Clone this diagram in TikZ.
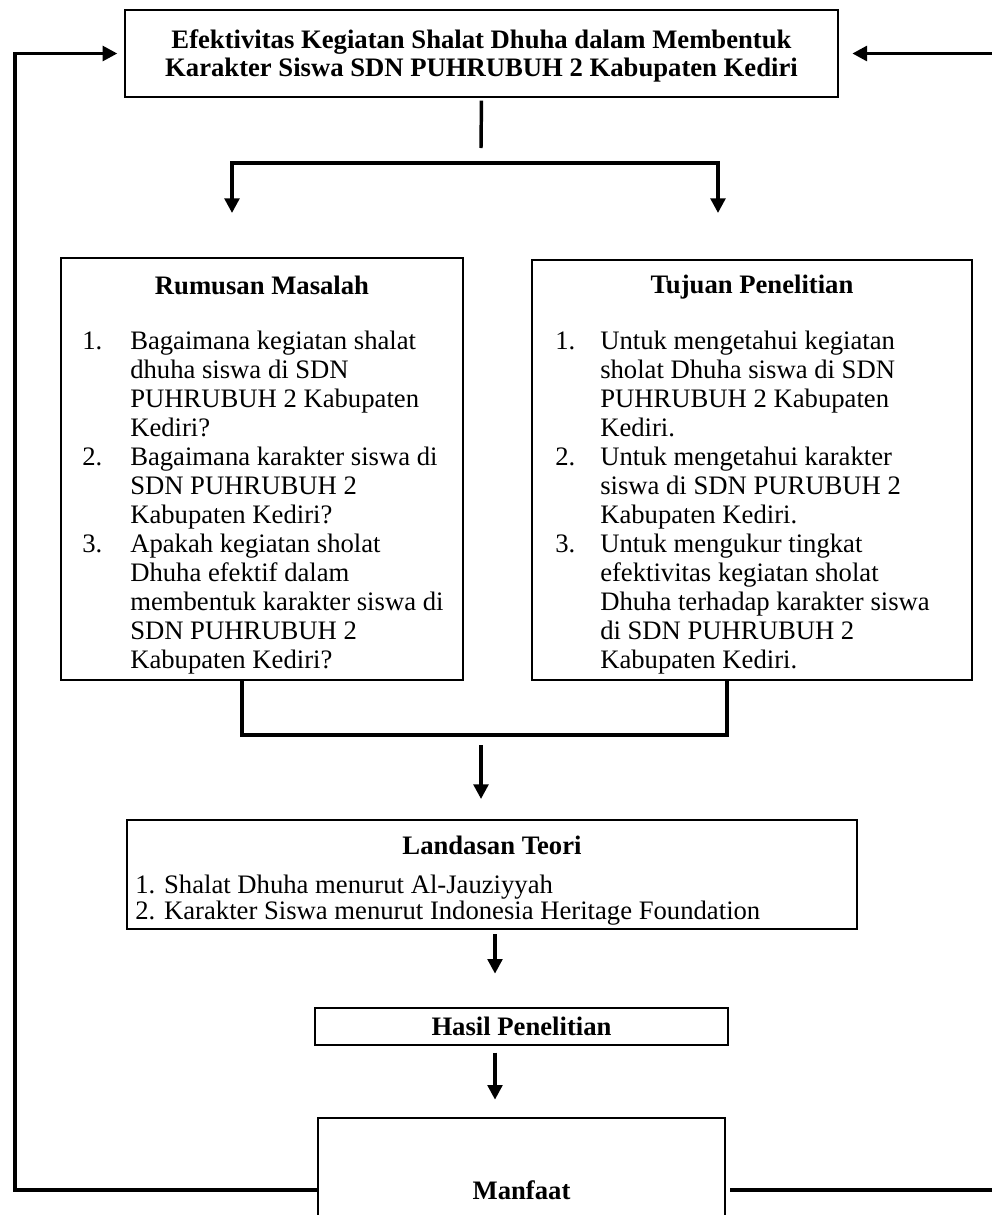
\documentclass[tikz,border=0pt]{standalone}
\usepackage{fontspec}
\setmainfont{Liberation Serif}
\usetikzlibrary{arrows.meta,fit}

\tikzset{
  kotak/.style={draw, line width=1.5pt, inner sep=0pt},
  garis/.style={line width=2.6pt},
  panah/.style={garis, -{Triangle[length=11pt,width=11pt]}},
  panahdua/.style={garis, {Triangle[length=11pt,width=11pt]}-{Triangle[length=11pt,width=11pt]}},
  judulkotak/.style={font=\fontsize{20pt}{21pt}\selectfont\bfseries, inner sep=0pt},
  daftar/.style={anchor=north west, inner sep=0pt, align=left},
}

\begin{document}
\begin{tikzpicture}[x=0.75pt,y=0.75pt,yscale=-1,xscale=1,font=\fontsize{20pt}{21.75pt}\selectfont]
\useasboundingbox (0,0) rectangle (992,1215);
\clip (0,0) rectangle (992,1215);

%Kotak judul
\node[kotak, fit={(125,10) (838,97)}] (judul) {};
\node[judulkotak, align=center] (tjudul) at (481.5,56) {Efektivitas Kegiatan Shalat Dhuha dalam Membentuk\\Karakter Siswa SDN PUHRUBUH 2 Kabupaten Kediri};

%Kotak rumusan masalah
\node[kotak, fit={(61,258) (463,680)}] (rumusan) {};
\node[judulkotak] (jrumusan) at (262,285) {Rumusan Masalah};
\node[daftar] (drumusan) at (82,329) {\begin{tabular}{@{}p{36pt}@{}l@{}}
1. & Bagaimana kegiatan shalat\\
   & dhuha siswa di SDN\\
   & PUHRUBUH 2 Kabupaten\\
   & Kediri?\\
2. & Bagaimana karakter siswa di\\
   & SDN PUHRUBUH 2\\
   & Kabupaten Kediri?\\
3. & Apakah kegiatan sholat\\
   & Dhuha efektif dalam\\
   & membentuk karakter siswa di\\
   & SDN PUHRUBUH 2\\
   & Kabupaten Kediri?
\end{tabular}};

%Kotak tujuan penelitian
\node[kotak, fit={(532,260) (972,680)}] (tujuan) {};
\node[judulkotak] (jtujuan) at (752,287) {Tujuan Penelitian};
\node[daftar] (dtujuan) at (555,329) {\begin{tabular}{@{}p{33.75pt}@{}l@{}}
1. & Untuk mengetahui kegiatan\\
   & sholat Dhuha siswa di SDN\\
   & PUHRUBUH 2 Kabupaten\\
   & Kediri.\\
2. & Untuk mengetahui karakter\\
   & siswa di SDN PURUBUH 2\\
   & Kabupaten Kediri.\\
3. & Untuk mengukur tingkat\\
   & efektivitas kegiatan sholat\\
   & Dhuha terhadap karakter siswa\\
   & di SDN PUHRUBUH 2\\
   & Kabupaten Kediri.
\end{tabular}};

%Kotak landasan teori
\node[kotak, fit={(127,820) (857,929)}] (landasan) {};
\node[judulkotak] (jlandasan) at (492,845) {Landasan Teori};
\node[daftar, font=\fontsize{20pt}{18pt}\selectfont] (dlandasan) at (135,875) {1. Shalat Dhuha menurut Al-Jauziyyah\\2. Karakter Siswa menurut Indonesia Heritage Foundation};

%Kotak hasil dan manfaat
\node[kotak, fit={(315,1008) (728,1045)}] (hasil) {};
\node[judulkotak] (thasil) at (hasil.center) {Hasil Penelitian};
\node[kotak, fit={(318,1118) (725,1262)}] (manfaat) {};
\node[judulkotak] (tmanfaat) at (manfaat.center) {Manfaat};

%Titik bantu
\coordinate (batas) at (481,148);
\coordinate (cabangkiri) at (232,163);
\coordinate (cabangkanan) at (718,163);
\coordinate (ujungkiri) at (232,213);
\coordinate (ujungkanan) at (718,213);
\coordinate (gabungkiri) at (242,735);
\coordinate (gabungkanan) at (727,735);
\coordinate (turun) at (481,745);
\coordinate (poros) at (495,0);
\coordinate (sudutkiri) at (15,1190);
\coordinate (sudutkanan) at (992,52);

%Garis penghubung
\draw[garis, shorten <=2pt] (judul.south) -- (batas);
\draw[panahdua] (ujungkiri) -- (cabangkiri) -- (cabangkanan) -- (ujungkanan);
\draw[garis] (gabungkiri |- rumusan.south) -- (gabungkiri) -- (gabungkanan) -- (gabungkanan |- tujuan.south);
\draw[panah, shorten >=15pt] (turun) -- (turun |- landasan.north);
\draw[panah, shorten <=3pt, shorten >=25pt] (landasan.south -| poros) -- (hasil.north -| poros);
\draw[panah, shorten <=5pt, shorten >=13pt] (hasil.south -| poros) -- (manfaat.north -| poros);

%Garis umpan balik
\draw[panah, shorten >=5pt] (manfaat.west) -- (sudutkiri) -- (sudutkiri |- judul.west) -- (judul.west);
\draw[panah, shorten >=10pt] (sudutkanan |- judul.east) -- (judul.east);
\draw[garis, shorten <=3pt] (manfaat.east) -- (manfaat.east -| sudutkanan);

\end{tikzpicture}
\end{document}
